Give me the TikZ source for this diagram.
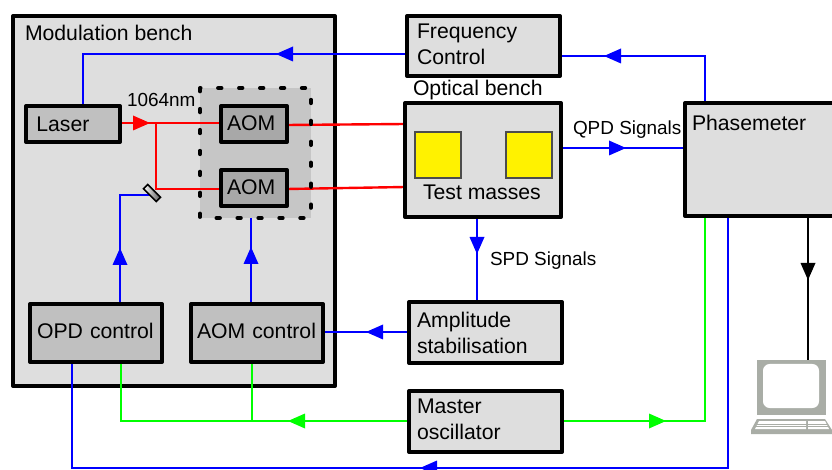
\documentclass[tikz,border=0pt]{standalone}
\usepackage{fontspec}
\setmainfont{Liberation Sans}
\usetikzlibrary{calc}
\pgfdeclarelayer{back}
\pgfdeclarelayer{lines}
\pgfsetlayers{back,lines,main}
\definecolor{benchfill}{HTML}{DEDEDE}
\definecolor{midfill}{HTML}{C0C0C0}
\definecolor{darkfill}{HTML}{A8A8A8}
\definecolor{groupfill}{HTML}{C6C6C6}
\definecolor{pcgrey}{HTML}{A9ADA6}
\tikzset{
  sig/.style={line width=1.8pt,line join=miter},
  bluesig/.style={sig,draw=blue},
  redsig/.style={sig,draw=red},
  greensig/.style={sig,draw=green},
  blacksig/.style={sig,draw=black},
  boxbase/.style={draw=black,line width=3pt,line join=round,rectangle,outer sep=0pt,inner sep=0pt,font=\fontsize{15.9}{19.6}\selectfont,align=left,anchor=north west},
  lightbox/.style={boxbase,fill=benchfill},
  midbox/.style={boxbase,fill=midfill},
  darkbox/.style={boxbase,fill=darkfill},
  txt/.style={font=\fontsize{15.9}{19.6}\selectfont,inner sep=0pt,outer sep=0pt,anchor=west},
  smalltxt/.style={font=\fontsize{14.2}{16}\selectfont,inner sep=0pt,outer sep=0pt,anchor=west},
  massbox/.style={rectangle,draw=black!70,line width=1pt,fill=yellow,minimum size=46*0.75pt,anchor=north west,outer sep=0pt},
  groupdash/.style={draw=black,line width=3pt,line cap=round,dash pattern=on 2.5pt off 13.2pt},
}
% triangular flow mark: x, y (tip), angle, colour
\newcommand{\flowmark}[4]{\fill[#4,shift={(#1,#2)},rotate=#3] (0,0) -- (-17,7.5) -- (-17,-7.5) -- cycle;}
\newcommand{\lowstrut}[1]{\rule[-#1]{0pt}{#1}}
\begin{document}
\begin{tikzpicture}[x=0.75pt,y=-0.75pt]
\useasboundingbox (0,0) rectangle (832,470);
\clip (0,0) rectangle (832,470);

% containers
\begin{pgfonlayer}{back}
\node[lightbox,minimum width=322*0.75pt,minimum height=370*0.75pt] (bench) at (13,16) {};
\node[rectangle,fill=groupfill,anchor=north west,outer sep=0pt,inner sep=0pt,minimum width=111*0.75pt,minimum height=130*0.75pt] (aomgroup) at (200,88) {};
\end{pgfonlayer}
\node[txt] (benchlabel) at (25,33) {Modulation bench};
\draw[groupdash] (aomgroup.north west) rectangle (aomgroup.south east);

% boxes
\node[midbox,minimum width=94*0.75pt,minimum height=36*0.75pt,text width=84*0.75pt] (laser) at (26,106) {\hspace*{4pt}Laser};
\node[darkbox,minimum width=66*0.75pt,minimum height=36*0.75pt,text width=54*0.75pt] (aomtop) at (221,106) {AOM\lowstrut{1.5pt}};
\node[darkbox,minimum width=66*0.75pt,minimum height=36*0.75pt,text width=54*0.75pt] (aombot) at (221,170) {AOM\lowstrut{1.5pt}};
\node[midbox,minimum width=132*0.75pt,minimum height=58*0.75pt,text width=120*0.75pt] (opd) at (30,304) {\hspace*{0.8pt}OPD control\lowstrut{3pt}};
\node[midbox,minimum width=132*0.75pt,minimum height=58*0.75pt,text width=120*0.75pt] (aomctl) at (191,304) {AOM control\lowstrut{3pt}};
\node[lightbox,minimum width=153*0.75pt,minimum height=60*0.75pt,text width=133*0.75pt] (freq) at (407,16) {Frequency\\Control\lowstrut{3pt}};
\node[lightbox,minimum width=156*0.75pt,minimum height=114*0.75pt] (optical) at (405,103) {};
\node[lightbox,minimum width=153*0.75pt,minimum height=61*0.75pt,text width=137*0.75pt] (amp) at (409,302) {Amplitude\\stabilisation};
\node[lightbox,minimum width=153*0.75pt,minimum height=61*0.75pt,text width=137*0.75pt] (master) at (409,391) {Master\\oscillator\lowstrut{3pt}};
\node[lightbox,minimum width=160*0.75pt,minimum height=113*0.75pt] (phase) at (685,103) {};

% computer
\coordinate (pctop) at (808,360);
\fill[pcgrey] (757,360) rectangle (826,415);
\fill[white,rounded corners=5pt] (763,364) rectangle (819,408);
\fill[pcgrey] (757,419) -- (825,419) -- (832,430) -- (832,434) -- (751,434) -- (751,430) -- cycle;
\fill[white] (759,421) -- (806,421) -- (806,429) -- (755,429) -- cycle;
\fill[white] (808,421) -- (825,421) -- (829,429) -- (808,429) -- cycle;
\draw[pcgrey,line width=0.6pt] (757,424) -- (828,424) (756,426.5) -- (829,426.5);

% connectors
\begin{pgfonlayer}{lines}
\draw[redsig] (laser.east |- 0,123) -- (aomtop.west |- 0,123);
\draw[redsig] (156,123) -- (156,189) -- (aombot.west |- 0,189);
\draw[redsig] (aomtop.east |- 0,125) -- (optical.west |- 0,124);
\draw[redsig] (aombot.east |- 0,189) -- (optical.west |- 0,187);
\flowmark{150}{123}{0}{red}

\coordinate (mirror) at (152,193);
\draw[bluesig] (120,0 |- opd.north) -- (120,195) -- (mirror |- 0,195);
\draw[bluesig] (251,0 |- aomctl.north) -- (251,0 |- aomgroup.south);
\draw[bluesig] (83,0 |- laser.north) -- (83,54) -- (freq.west |- 0,54);
\draw[bluesig] (705,0 |- phase.north) -- (705,56) -- (freq.east |- 0,56);
\draw[bluesig] (optical.east |- 0,148) -- (phase.west |- 0,148);
\draw[bluesig] (477,0 |- optical.south) -- (477,0 |- amp.north);
\draw[bluesig] (amp.west |- 0,332) -- (aomctl.east |- 0,332);
\draw[bluesig] (728,0 |- phase.south) -- (728,468) -- (72,468) -- (72,0 |- opd.south);
\flowmark{276}{54}{180}{blue}
\flowmark{604}{56}{180}{blue}
\flowmark{626}{148}{0}{blue}
\flowmark{477}{254}{-90}{blue}
\flowmark{366}{332}{180}{blue}
\flowmark{120}{248}{90}{blue}
\flowmark{251}{247}{90}{blue}
\flowmark{420}{468}{180}{blue}

\draw[greensig] (master.west |- 0,421) -- (121,421) -- (121,0 |- opd.south);
\draw[greensig] (252,421) -- (252,0 |- aomctl.south);
\draw[greensig] (master.east |- 0,421) -- (705,421) -- (705,0 |- phase.south);
\flowmark{288}{421}{180}{green}
\flowmark{666}{421}{0}{green}

\draw[blacksig] (808,0 |- phase.south) -- (pctop);
\flowmark{808}{280}{-90}{black}
\end{pgfonlayer}

% mirror
\begin{scope}[shift={(mirror)},rotate=-45]
  \shade[left color=white,right color=gray!70!black,draw=black,line width=1.1pt] (-9,-3) rectangle (9,3);
\end{scope}

% masses and labels
\node[massbox] (massa) at (415,132) {};
\node[massbox] (massb) at (506,132) {};
\node[txt] (testlabel) at (423,192) {Test masses};
\node[txt] (opticallabel) at (413,90) {Optical bench};
\node[txt] (phaselabel) at (692,123) {Phasemeter};
\node[smalltxt] (wavelabel) at (127,100) {1064nm};
\node[smalltxt] (qpdlabel) at (573,130) {QPD Signals};
\node[smalltxt] (spdlabel) at (490,261) {SPD Signals};
\end{tikzpicture}
\end{document}
